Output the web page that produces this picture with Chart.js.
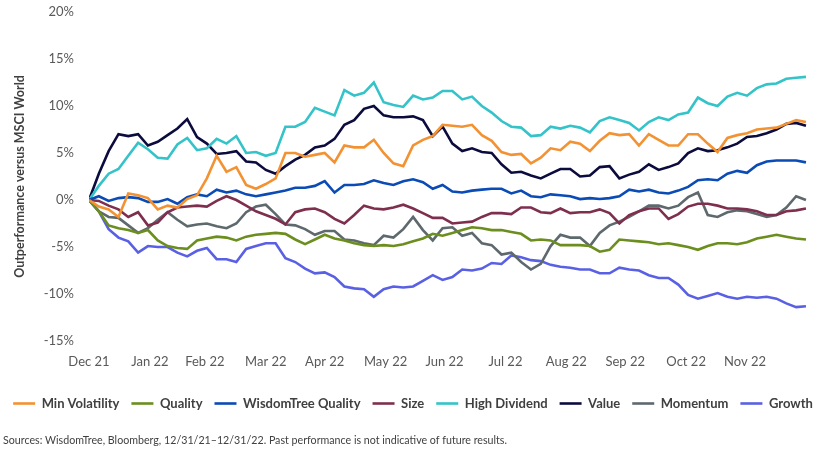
<!DOCTYPE html>
<html>
<head>
<meta charset="utf-8">
<script src="https://cdn.jsdelivr.net/npm/chart.js@4.4.1/dist/chart.umd.min.js"></script>
<style>
    body { margin: 0; background: #fff; }
    #wrap { width: 826px; height: 456px; position: relative; }
</style>
</head>
<body>
<div id="wrap"><canvas id="perfChart"></canvas></div>
<script>
// Days since 12/31/21, sampled every 5 days
const days = [0, 5, 10, 15, 20, 25, 30, 35, 40, 45, 50, 55, 60, 65, 70, 75, 80, 85, 90, 95,
    100, 105, 110, 115, 120, 125, 130, 135, 140, 145, 150, 155, 160, 165, 170, 175, 180, 185, 190, 195,
    200, 205, 210, 215, 220, 225, 230, 235, 240, 245, 250, 255, 260, 265, 270, 275, 280, 285, 290, 295,
    300, 305, 310, 315, 320, 325, 330, 335, 340, 345, 350, 355, 360, 365];

// Month-end tick positions and labels
const monthTicks = [0, 31, 59, 90, 120, 151, 181, 212, 243, 273, 304, 334];
const monthLabels = ['Dec 21', 'Jan 22', 'Feb 22', 'Mar 22', 'Apr 22', 'May 22', 'Jun 22',
    'Jul 22', 'Aug 22', 'Sep 22', 'Oct 22', 'Nov 22'];

const yTicks = [-15, -10, -5, 0, 5, 10, 15, 20];

// Outperformance versus MSCI World, %
const minVolatility = [0, -0.7, -1.0, -1.8, 0.7, 0.5, 0.2, -1.0, -0.6, -0.8,
    0.1, 0.5, 2.3, 4.7, 3.0, 3.5, 1.6, 1.2, 1.7, 2.3,
    5.0, 5.0, 4.6, 4.8, 5.0, 4.0, 5.8, 5.6, 5.6, 6.4,
    5.0, 3.9, 3.6, 5.8, 6.4, 6.8, 8.0, 7.9, 7.8, 8.0,
    6.9, 6.3, 5.1, 4.8, 4.9, 3.9, 4.5, 5.5, 5.3, 6.2,
    6.0, 5.2, 6.3, 7.1, 6.9, 7.0, 5.8, 7.0, 6.4, 5.8,
    5.8, 7.0, 7.0, 6.0, 5.1, 6.6, 6.9, 7.1, 7.5, 7.6,
    7.7, 8.1, 8.5, 8.3];
const quality = [0, -1.2, -2.7, -3.0, -3.2, -3.5, -3.2, -4.3, -4.9, -5.1,
    -5.2, -4.3, -4.1, -3.9, -4.0, -4.3, -3.9, -3.7, -3.6, -3.5,
    -3.6, -4.2, -4.7, -4.2, -3.7, -4.1, -4.3, -4.6, -4.8, -4.9,
    -4.8, -4.9, -4.7, -4.4, -4.1, -3.6, -3.8, -3.5, -3.2, -2.9,
    -3.0, -3.2, -3.2, -3.4, -3.6, -4.3, -4.2, -4.3, -4.8, -4.8,
    -4.8, -4.9, -5.5, -5.3, -4.2, -4.3, -4.4, -4.5, -4.7, -4.6,
    -4.8, -5.0, -5.3, -4.9, -4.6, -4.6, -4.7, -4.5, -4.1, -3.9,
    -3.7, -3.9, -4.1, -4.2];
const wtQuality = [0, 0.4, -0.1, 0.2, 0.3, 0.2, -0.2, -0.2, 0.1, -0.4,
    0.3, 0.6, 0.4, 1.1, 0.8, 1.0, 0.6, 0.4, 0.6, 0.8,
    1.0, 1.3, 1.3, 1.5, 2.0, 0.8, 1.6, 1.6, 1.7, 2.1,
    1.8, 1.6, 2.0, 2.2, 1.9, 1.2, 1.6, 0.9, 0.8, 1.0,
    1.1, 1.2, 1.2, 0.7, 1.0, 0.4, 0.3, 0.6, 0.5, 0.4,
    0.1, 0.2, 0.1, 0.2, 0.4, 1.1, 0.9, 1.1, 0.8, 0.7,
    1.0, 1.4, 2.1, 2.2, 2.1, 2.8, 3.1, 2.9, 3.7, 4.1,
    4.2, 4.2, 4.2, 4.0];
const size = [0, -0.1, -0.6, -1.0, -1.8, -1.3, -2.7, -2.4, -1.3, -0.8,
    -0.7, -0.6, -0.7, -0.1, 0.4, 0.0, -0.6, -1.2, -1.6, -2.0,
    -2.6, -1.3, -1.0, -0.9, -1.3, -2.0, -2.5, -1.6, -0.6, -0.9,
    -1.0, -0.8, -0.5, -0.9, -1.4, -1.9, -1.9, -2.5, -2.4, -2.3,
    -1.8, -1.4, -1.4, -1.5, -0.8, -0.8, -1.3, -1.4, -0.9, -1.4,
    -1.3, -1.3, -1.0, -1.4, -2.5, -1.6, -1.2, -0.9, -0.9, -2.0,
    -1.5, -0.7, -0.4, -0.4, -0.6, -0.9, -0.9, -1.0, -1.2, -1.6,
    -1.6, -1.2, -1.1, -0.9];
const highDividend = [0, 1.5, 2.8, 3.3, 4.7, 6.1, 5.4, 4.5, 4.4, 5.9,
    6.6, 5.3, 5.5, 6.5, 6.0, 6.8, 5.0, 5.1, 4.7, 5.0,
    7.8, 7.8, 8.3, 9.8, 9.4, 9.0, 11.7, 11.1, 11.4, 12.5,
    10.4, 10.1, 9.9, 11.1, 10.7, 10.9, 11.6, 11.6, 10.7, 11.0,
    10.0, 9.3, 8.4, 7.8, 7.7, 6.8, 6.9, 7.8, 7.6, 7.9,
    7.7, 7.2, 8.4, 8.8, 8.5, 8.2, 7.4, 8.3, 8.8, 8.5,
    9.1, 9.3, 10.9, 10.3, 10.0, 11.0, 11.4, 11.1, 11.9, 12.3,
    12.4, 12.9, 13.0, 13.1];
const value = [0, 2.8, 5.2, 7.0, 6.8, 7.0, 5.8, 6.2, 6.9, 7.6,
    8.6, 6.7, 6.0, 4.9, 5.0, 5.2, 4.1, 4.0, 3.2, 2.8,
    3.6, 4.3, 4.8, 5.6, 5.8, 6.5, 8.0, 8.5, 9.7, 10.0,
    9.0, 8.8, 8.8, 8.9, 8.5, 6.8, 7.8, 6.0, 5.2, 5.5,
    5.1, 5.0, 3.8, 2.9, 3.0, 2.6, 2.3, 2.8, 3.3, 3.3,
    2.5, 2.6, 3.5, 3.6, 2.3, 2.7, 3.0, 3.8, 3.2, 3.5,
    3.9, 5.0, 5.5, 5.2, 5.3, 5.6, 6.0, 6.7, 6.8, 7.1,
    7.5, 8.1, 8.2, 7.9];
const momentum = [0, -1.2, -1.8, -1.9, -2.7, -3.5, -3.0, -2.1, -1.3, -2.1,
    -2.8, -2.6, -2.5, -2.8, -3.0, -2.5, -1.3, -0.7, -0.5, -1.5,
    -2.6, -2.7, -3.1, -3.7, -3.3, -3.3, -4.2, -4.3, -4.6, -4.8,
    -3.8, -4.0, -3.1, -1.8, -3.2, -4.3, -3.0, -2.9, -3.8, -3.5,
    -4.6, -4.8, -5.8, -5.6, -6.6, -7.4, -6.8, -4.9, -3.7, -4.0,
    -4.0, -4.9, -3.5, -2.7, -2.3, -1.8, -1.2, -0.6, -0.6, -0.9,
    -0.6, 0.3, 0.8, -1.6, -1.8, -1.3, -1.1, -1.2, -1.5, -1.8,
    -1.6, -0.8, 0.4, 0.0];
const growth = [0, -1.2, -3.1, -4.0, -4.4, -5.6, -4.9, -5.0, -5.0, -5.6,
    -6.0, -5.4, -5.1, -6.3, -6.3, -6.6, -5.2, -4.9, -4.6, -4.6,
    -6.2, -6.6, -7.3, -7.8, -7.7, -8.2, -9.2, -9.4, -9.5, -10.3,
    -9.5, -9.2, -9.3, -9.2, -8.6, -8.0, -8.5, -8.2, -7.4, -7.5,
    -7.3, -6.7, -6.8, -5.9, -6.1, -6.4, -6.5, -6.9, -7.1, -7.2,
    -7.4, -7.4, -7.8, -7.8, -7.2, -7.4, -7.5, -8.0, -8.3, -8.3,
    -9.0, -10.1, -10.5, -10.2, -9.9, -10.3, -10.5, -10.3, -10.4, -10.3,
    -10.5, -11.0, -11.4, -11.3];

const seriesNames = ['Min Volatility', 'Quality', 'WisdomTree Quality', 'Size',
    'High Dividend', 'Value', 'Momentum', 'Growth'];
const seriesData = [minVolatility, quality, wtQuality, size, highDividend, value, momentum, growth];
const seriesColors = ['#F39233', '#6B8E1F', '#0A4BB5', '#7E2F4E', '#33C3C8', '#0C0B3E', '#5E696E', '#5A60E4'];

const sourceText = 'Sources: WisdomTree, Bloomberg, 12/31/21\u201312/31/22. Past performance is not indicative of future results.';

// Footnote under the legend
const sourcePlugin = {
    id: 'sourceNote',
    afterDraw(chart) {
        const ctx = chart.ctx;
        ctx.save();
        ctx.font = '11px Lato';
        ctx.fillStyle = '#404040';
        ctx.textBaseline = 'middle';
        ctx.textAlign = 'left';
        ctx.fillText(sourceText, 3, 440, 504);
        ctx.restore();
    }
};

function buildDatasets() {
    return seriesNames.map((name, i) => ({
        label: name,
        data: days.map((d, j) => ({ x: d, y: seriesData[i][j] })),
        borderColor: seriesColors[i],
        backgroundColor: seriesColors[i],
        borderWidth: 2.6,
        pointRadius: 0,
        pointStyle: 'line',
        tension: 0
    }));
}

document.addEventListener('DOMContentLoaded', () => {
    const ctx = document.getElementById('perfChart').getContext('2d');
    new Chart(ctx, {
        type: 'line',
        data: { datasets: buildDatasets() },
        plugins: [sourcePlugin],
        options: {
            responsive: true,
            maintainAspectRatio: false,
            animation: false,
            devicePixelRatio: 1,
            layout: { padding: { left: 0, right: 0, top: 12, bottom: 36 } },
            scales: {
                x: {
                    type: 'linear',
                    min: 0,
                    max: 375.2, // empty margin right of the last day, like the original
                    grid: { display: false, drawTicks: false },
                    border: { display: false },
                    afterBuildTicks: scale => {
                        scale.ticks = monthTicks.map(v => ({ value: v }));
                    },
                    afterFit: scale => { scale.height = 44; },
                    ticks: {
                        autoSkip: false,
                        maxRotation: 0,
                        padding: 13,
                        color: '#595959',
                        font: { family: 'Lato', size: 13 },
                        callback: v => monthLabels[monthTicks.indexOf(v)]
                    }
                },
                y: {
                    min: -15,
                    max: 20,
                    grid: { display: false, drawTicks: false },
                    border: { display: false },
                    afterBuildTicks: scale => {
                        scale.ticks = yTicks.map(v => ({ value: v }));
                    },
                    afterFit: scale => {
                        scale.width = 89;
                        scale.paddingTop = 0;
                        scale.paddingBottom = 0;
                    },
                    ticks: {
                        padding: 15,
                        color: '#595959',
                        font: { family: 'Lato', size: 13 },
                        callback: v => v + '%'
                    },
                    title: {
                        display: true,
                        text: 'Outperformance versus MSCI World',
                        color: '#404040',
                        font: { family: 'Lato', size: 12.5, weight: 'bold' },
                        padding: { top: 12, bottom: 0 }
                    }
                }
            },
            plugins: {
                legend: {
                    position: 'bottom',
                    labels: {
                        usePointStyle: true,
                        pointStyle: 'line',
                        pointStyleWidth: 22,
                        padding: 12,
                        color: '#404040',
                        font: { family: 'Lato', size: 13, weight: 'bold' }
                    }
                },
                tooltip: { enabled: false }
            }
        }
    });
});
</script>
</body>
</html>
